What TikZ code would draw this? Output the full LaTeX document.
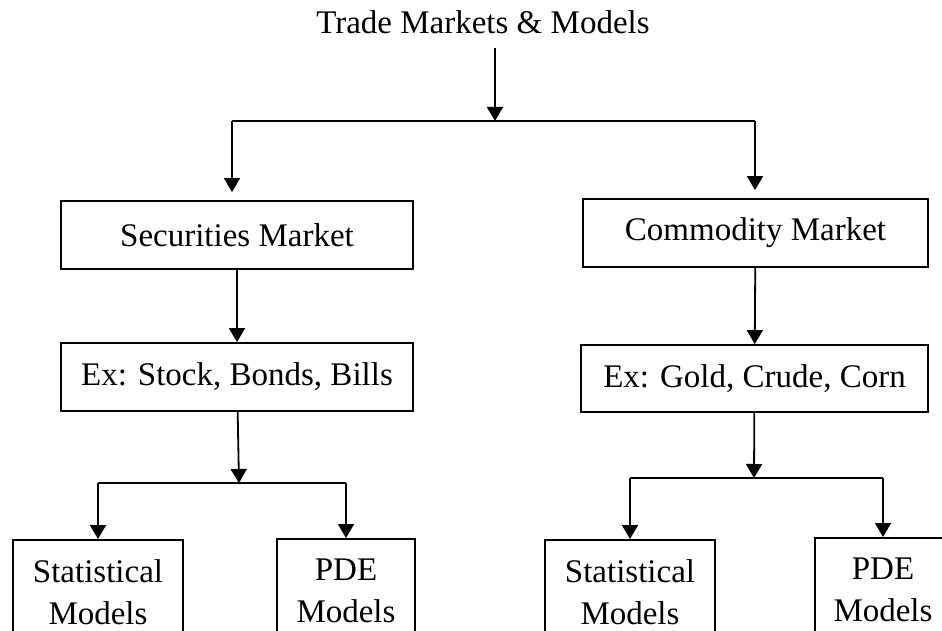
\documentclass[tikz,border=0pt]{standalone}
\usepackage{fontspec}
\setmainfont{Liberation Serif}
\usetikzlibrary{arrows.meta}
\begin{document}
\begin{tikzpicture}[x=0.5pt, y=-0.5pt,
    font=\fontsize{16.5pt}{21pt}\selectfont,
    market/.style={draw, line width=0.9pt, inner sep=0pt, minimum height=34pt},
    leaf/.style={draw, line width=0.9pt, inner sep=0pt, align=center, minimum height=52pt, anchor=north},
    arr/.style={line width=0.9pt, -{Triangle[width=8pt, length=7pt]}},
    link/.style={line width=0.9pt}]
    \useasboundingbox (0,0) rectangle (942,631);
    \node[anchor=base, inner sep=6.5pt] (title) at (483,34) {Trade Markets \& Models};
    \node[market, minimum width=176pt] (sec) at (237,235) {Securities Market};
    \node[market, minimum width=172.5pt] (com) at (755.5,233) {Commodity Market};
    \node[market, minimum width=176pt] (exs) at (237,377) {Ex: Stock, Bonds, Bills};
    \node[market, minimum width=173.5pt, minimum height=33.5pt] (exg) at (754.5,378.5) {Ex: Gold, Crude, Corn};
    \node[leaf, minimum width=85pt] (stat1) at (98,539) {Statistical\\Models};
    \node[leaf, minimum width=69pt] (pde1) at (346,538) {PDE\\Models};
    \node[leaf, minimum width=85pt] (stat2) at (630,539) {Statistical\\Models};
    \node[leaf, minimum width=68pt] (pde2) at (883,537) {PDE\\Models};
    \coordinate (topsplit) at (495,121);
    \coordinate (lt) at (232,121);
    \coordinate (rt) at (755,121);
    \coordinate (lsplit) at (239,483);
    \coordinate (rsplit) at (754,478);
    \draw[arr] (title.south -| topsplit) -- (topsplit);
    \draw[link] (lt) -- (rt);
    \draw[arr, shorten >=4pt] (lt) -- (lt |- sec.north);
    \draw[arr, shorten >=4pt] (rt) -- (rt |- com.north);
    \draw[arr] (sec) -- (exs);
    \draw[arr] (com) -- (exg);
    \draw[arr] (exs) -- (lsplit);
    \draw[link] (stat1.north |- lsplit) -- (pde1.north |- lsplit);
    \draw[arr] (stat1.north |- lsplit) -- (stat1);
    \draw[arr] (pde1.north |- lsplit) -- (pde1);
    \draw[arr] (exg) -- (rsplit);
    \draw[link] (stat2.north |- rsplit) -- (pde2.north |- rsplit);
    \draw[arr] (stat2.north |- rsplit) -- (stat2);
    \draw[arr] (pde2.north |- rsplit) -- (pde2);
\end{tikzpicture}
\end{document}
